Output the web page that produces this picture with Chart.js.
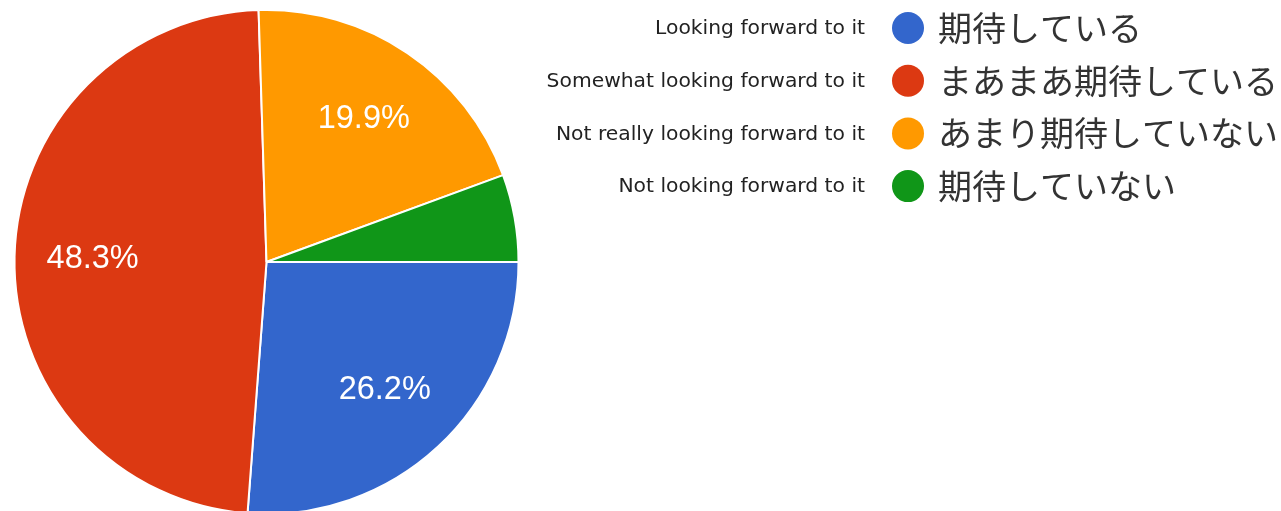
<!DOCTYPE html>
<html>
<head>
<meta charset="utf-8">
<script src="https://cdn.jsdelivr.net/npm/chart.js@4"></script>
<style>
  html, body { margin: 0; padding: 0; background: #fff; overflow: hidden; }
  #wrap { width: 1281px; height: 530px; }
</style>
</head>
<body>
<div id="wrap"><canvas id="chart"></canvas></div>
<script>
// answers, in the order the slices go round (clockwise from 3 o'clock)
var labelsJa = ['期待している', 'まあまあ期待している', 'あまり期待していない', '期待していない']
var labelsEn = ['Looking forward to it', 'Somewhat looking forward to it', 'Not really looking forward to it', 'Not looking forward to it']
var shares = [26.2, 48.3, 19.9, 5.6]
var colors = ['#3366cc', '#dc3912', '#ff9900', '#109618']

// percent labels inside the slices
var sliceLabels = {
  id: 'sliceLabels',
  afterDatasetsDraw(chart) {
    var ctx = chart.ctx
    var meta = chart.getDatasetMeta(0)
    var total = shares.reduce((a, b) => a + b, 0)
    ctx.save()
    ctx.fillStyle = '#fff'
    ctx.font = '32.5px "Liberation Sans", Arial, sans-serif'
    ctx.textAlign = 'center'
    ctx.textBaseline = 'middle'
    meta.data.forEach((arc, i) => {
      var pct = shares[i] / total * 100
      if (pct < 8) return
      var p = arc.getProps(['x', 'y', 'startAngle', 'endAngle', 'outerRadius'], true)
      var mid = (p.startAngle + p.endAngle) / 2
      var r = p.outerRadius * 0.69
      ctx.fillText(pct.toFixed(1) + '%', p.x + Math.cos(mid) * r, p.y + Math.sin(mid) * r + 1)
    })
    ctx.restore()
  }
}

// legend on the right: english note, dot, japanese label
var sideLegend = {
  id: 'sideLegend',
  afterDraw(chart) {
    var ctx = chart.ctx
    ctx.save()
    ctx.textBaseline = 'middle'
    labelsJa.forEach((ja, i) => {
      var y = 28 + i * 52.7
      ctx.font = '20.3px "DejaVu Sans", sans-serif'
      ctx.fillStyle = '#222'
      ctx.textAlign = 'right'
      ctx.fillText(labelsEn[i], 865, y + 1)
      ctx.beginPath()
      ctx.arc(908, y, 16, 0, Math.PI * 2)
      ctx.fillStyle = colors[i]
      ctx.fill()
      ctx.font = '34px "Noto Sans CJK JP", sans-serif'
      ctx.fillStyle = '#333'
      ctx.textAlign = 'left'
      ctx.fillText(ja, 938, y)
    })
    ctx.restore()
  }
}

new Chart(document.getElementById('chart'), {
  type: 'pie',
  data: {
    labels: labelsJa,
    datasets: [{
      data: shares,
      backgroundColor: colors,
      borderColor: '#fff',
      borderWidth: 2,
    }],
  },
  options: {
    responsive: true,
    maintainAspectRatio: false,
    animation: false,
    rotation: 90,
    layout: { padding: { left: 13, top: 9, right: 761, bottom: 15 } },
    plugins: {
      legend: { display: false },
      tooltip: { enabled: false },
    },
  },
  plugins: [sliceLabels, sideLegend],
})
</script>
</body>
</html>
